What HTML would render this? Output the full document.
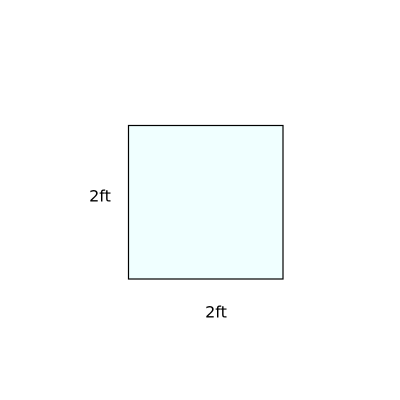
<!DOCTYPE html>
<html><head><meta charset="utf-8"><style>
html,body{margin:0;padding:0;background:#fff;width:400px;height:400px;overflow:hidden}
</style></head><body>
<svg width="400" height="400" viewBox="0 0 400 400">
<rect x="128.5" y="125.5" width="154.5" height="153.5" fill="#f0ffff" stroke="#000" stroke-width="1.2"/>
<text x="100" y="196" font-family="DejaVu Sans, sans-serif" font-size="16" text-anchor="middle" dominant-baseline="central">2ft</text>
<text x="216" y="312" font-family="DejaVu Sans, sans-serif" font-size="16" text-anchor="middle" dominant-baseline="central">2ft</text>
</svg>
</body></html>
